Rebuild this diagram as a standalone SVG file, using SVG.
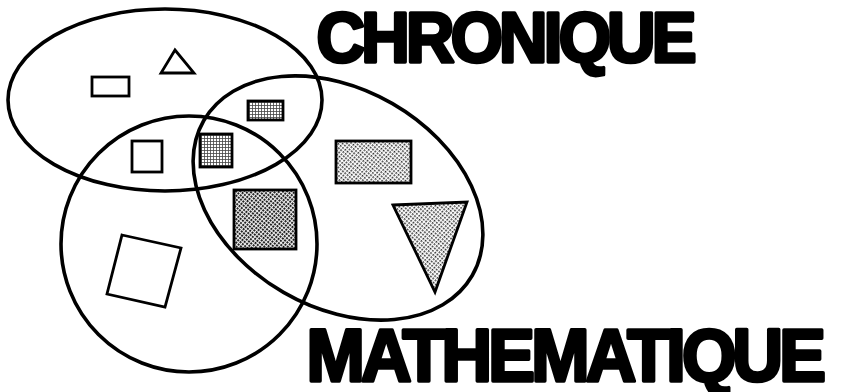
<svg xmlns="http://www.w3.org/2000/svg" width="845" height="392" viewBox="0 0 845 392">
<defs>
<pattern id="grid" width="3" height="3" patternUnits="userSpaceOnUse">
<rect width="3" height="3" fill="#fff"/>
<path d="M0 0.5H3M0.5 0V3" stroke="#444" stroke-width="0.8"/>
</pattern>
<pattern id="dots" width="3" height="3" patternUnits="userSpaceOnUse" patternTransform="rotate(40)">
<rect width="3" height="3" fill="#fff"/>
<rect width="1.6" height="1.6" fill="#222"/>
</pattern>
<pattern id="dark" width="3" height="3" patternUnits="userSpaceOnUse" patternTransform="rotate(40)">
<rect width="3" height="3" fill="#eee"/>
<rect width="1.9" height="1.9" fill="#111"/>
</pattern>
<style>
.set{fill:none;stroke:#000;stroke-width:3.6}
.shape{stroke:#000;stroke-width:2.8;stroke-linejoin:miter}
.open{fill:#fff}
.title{font-family:"Liberation Sans",Arial,sans-serif;font-weight:bold;fill:#000;stroke:#000;stroke-width:3.6;stroke-linejoin:round;letter-spacing:-4px}
</style>
</defs>
<rect width="845" height="392" fill="#fff"/>
<g id="shapes">
<g id="rect-top"><rect class="shape open" x="92" y="77" width="37" height="19"/></g>
<g id="triangle-top"><polygon class="shape open" points="175,50 161,73 194,73"/></g>
<g id="square-open"><rect class="shape open" x="132" y="141" width="30" height="31"/></g>
<g id="rect-grid"><rect class="shape" fill="url(#grid)" x="248" y="101" width="35" height="19"/></g>
<g id="square-grid"><rect class="shape" fill="url(#grid)" x="200" y="134" width="32" height="33"/></g>
<g id="square-dark"><rect class="shape" fill="url(#dark)" x="234" y="190" width="62" height="59"/></g>
<g id="rect-right"><rect class="shape" fill="url(#dots)" x="336" y="141" width="75" height="42"/></g>
<g id="triangle-right"><polygon class="shape" fill="url(#dots)" points="393,205 467,202 435,292"/></g>
<g id="square-rotated"><polygon class="shape open" points="122,235 181,248 165,307 107,294"/></g>
</g>
<g id="sets">
<g id="set-top"><ellipse class="set" cx="165" cy="100" rx="157" ry="91"/></g>
<g id="set-left"><ellipse class="set" cx="189" cy="244" rx="128" ry="128"/></g>
<g id="set-right"><ellipse class="set" cx="338" cy="198" rx="155" ry="109" transform="rotate(30 338 198)"/></g>
</g>
<g id="titles">
<text class="title" transform="translate(316.5 61.5) scale(0.946 1)" font-size="71">CHRONIQUE</text>
<text class="title" transform="translate(306.5 380.5) scale(0.946 1)" font-size="74">MATHEMATIQUE</text>
</g>
</svg>
